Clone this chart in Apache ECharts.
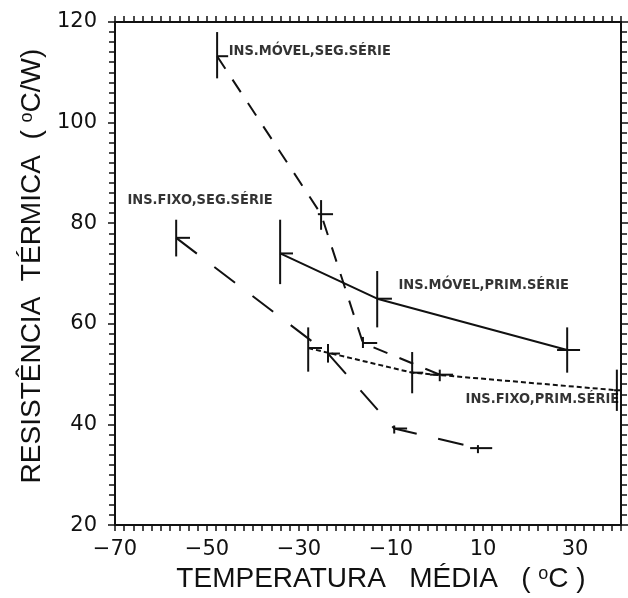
<!DOCTYPE html>
<html><head><meta charset="utf-8">
<script src="https://cdn.jsdelivr.net/npm/echarts@6/dist/echarts.min.js"></script>
<style>html,body{margin:0;padding:0;background:#fff}#c{width:628px;height:598px}</style>
</head><body><div id="c"></div>
<script>
// Tick labels
const xTickLabels = [-70, -50, -30, -10, 10, 30];
const yTickLabels = [20, 40, 60, 80, 100, 120];

// INS.MÓVEL,SEG.SÉRIE (dashed)
const movelSegT   = [-47.8, -25.2, -16.1, 0.6];
const movelSegR   = [113.2, 81.8, 56.2, 49.9];
const movelSegTlo = [-47.8, -25.9, -16.1, -1.5];
const movelSegThi = [-45.4, -22.6, -13.0, 3.5];
const movelSegRlo = [108.8, 78.7, 55.2, 48.6];
const movelSegRhi = [118.0, 84.6, 57.4, 50.9];

// INS.MÓVEL,PRIM.SÉRIE (solid)
const movelPrimT   = [-34.1, -13.0, 28.3];
const movelPrimR   = [74.0, 65.0, 54.8];
const movelPrimTlo = [-34.1, -13.0, 26.1];
const movelPrimThi = [-31.3, -9.8, 31.1];
const movelPrimRlo = [67.9, 59.3, 50.3];
const movelPrimRhi = [80.7, 70.5, 59.3];

// INS.FIXO,PRIM.SÉRIE (short dashes)
const fixoPrimT   = [-28.0, -5.4, 39.1];
const fixoPrimR   = [55.2, 50.3, 46.8];
const fixoPrimTlo = [-28.0, -5.4, 38.5];
const fixoPrimThi = [-25.0, -3.0, 40.0];
const fixoPrimRlo = [50.5, 46.2, 42.7];
const fixoPrimRhi = [59.3, 54.4, 50.9];

// INS.FIXO,SEG.SÉRIE (long dashes)
const fixoSegT   = [-56.7, -23.7, -9.3, 8.9];
const fixoSegR   = [77.1, 54.1, 39.2, 35.3];
const fixoSegTlo = [-56.7, -23.7, -9.3, 7.2];
const fixoSegThi = [-53.7, -21.1, -6.5, 12.0];
const fixoSegRlo = [73.4, 52.3, 38.2, 34.3];
const fixoSegRhi = [80.7, 56.0, 39.8, 35.9];

// Curve labels (anchored at their left edge)
const labelText = ['INS.MÓVEL,SEG.SÉRIE', 'INS.FIXO,SEG.SÉRIE', 'INS.MÓVEL,PRIM.SÉRIE', 'INS.FIXO,PRIM.SÉRIE'];
const labelT = [-45.4, -67.4, -8.5, 6.1];
const labelR = [114.2, 84.6, 67.6, 45.0];

const INK = '#111';

function pts(t, r) { return t.map((v, i) => [v, r[i]]); }
function errs(t, r, tl, th, rl, rh) { return t.map((v, i) => [v, r[i], tl[i], th[i], rl[i], rh[i]]); }

function errRender(params, api) {
  const t = api.value(0), r = api.value(1);
  const tl = api.value(2), th = api.value(3), rl = api.value(4), rh = api.value(5);
  const v1 = api.coord([t, rl]), v2 = api.coord([t, rh]);
  const h1 = api.coord([tl, r]), h2 = api.coord([th, r]);
  return {
    type: 'group',
    children: [
      { type: 'line', shape: { x1: v1[0], y1: v1[1], x2: v2[0], y2: v2[1] }, style: { stroke: INK, lineWidth: 2 } },
      { type: 'line', shape: { x1: h1[0], y1: h1[1], x2: h2[0], y2: h2[1] }, style: { stroke: INK, lineWidth: 2 } }
    ]
  };
}

function lineSeries(name, data, type) {
  return {
    name, type: 'line', data, symbol: 'none', smooth: false,
    lineStyle: { color: INK, width: 2, type },
    z: 3
  };
}
function errSeries(name, data) {
  return {
    name: name + ' err', type: 'custom', renderItem: errRender, data,
    encode: { x: [0, 2, 3], y: [1, 4, 5] }, z: 4
  };
}

const fmtMinus = v => String(v).replace('-', '\u2212');

const axisCommonX = {
  type: 'value', min: -70, max: 40, interval: 10,
  axisLine: { show: true, onZero: false, lineStyle: { color: INK, width: 2 } },
  axisTick: { show: true, inside: false, length: 6, lineStyle: { color: INK, width: 1.5 } },
  minorTick: { show: true, splitNumber: 5, length: 6, lineStyle: { color: INK, width: 1.5 } },
  splitLine: { show: false }, minorSplitLine: { show: false }
};
const axisCommonY = {
  type: 'value', min: 20, max: 120, interval: 20,
  axisLine: { show: true, onZero: false, lineStyle: { color: INK, width: 2 } },
  axisTick: { show: true, inside: false, length: 7, lineStyle: { color: INK, width: 1.5 } },
  minorTick: { show: true, splitNumber: 10, length: 6, lineStyle: { color: INK, width: 1.5 } },
  splitLine: { show: false }, minorSplitLine: { show: false }
};

const chart = echarts.init(document.getElementById('c'));
chart.setOption({
  animation: false,
  backgroundColor: '#fff',
  grid: { left: 115, right: 7, top: 22, bottom: 65, containLabel: false },
  xAxis: [
    Object.assign({}, axisCommonX, {
      position: 'bottom',
      name: 'TEMPERATURA   MÉDIA   ( {s|o}C )',
      nameLocation: 'middle', nameGap: 34,
      nameTextStyle: { fontFamily: 'Liberation Sans, Arial, sans-serif', fontSize: 28, color: INK, padding: [0, 0, 0, 26],
        rich: { s: { fontFamily: 'Liberation Sans, Arial, sans-serif', fontSize: 18, color: INK, verticalAlign: 'top', padding: [0, 0, 10, 0] } } },
      axisLabel: {
        show: true, margin: 14, fontFamily: 'DejaVu Sans, sans-serif', fontSize: 21, color: INK,
        formatter: v => xTickLabels.includes(v) ? fmtMinus(v) : ''
      }
    }),
    Object.assign({}, axisCommonX, { position: 'top', axisLabel: { show: false } })
  ],
  yAxis: [
    Object.assign({}, axisCommonY, {
      position: 'left',
      name: 'RESISTÊNCIA  TÉRMICA  ( {s|o}C/W)',
      nameLocation: 'middle', nameGap: 68, nameRotate: 90,
      nameTextStyle: { fontFamily: 'Liberation Sans, Arial, sans-serif', fontSize: 28, color: INK, padding: [0, 0, 0, 15],
        rich: { s: { fontFamily: 'Liberation Sans, Arial, sans-serif', fontSize: 18, color: INK, padding: [0, 0, 10, 0] } } },
      axisLabel: {
        show: true, margin: 18, fontFamily: 'DejaVu Sans, sans-serif', fontSize: 21, color: INK,
        formatter: v => yTickLabels.includes(v) ? String(v) : ''
      }
    }),
    Object.assign({}, axisCommonY, { position: 'right', axisLabel: { show: false } })
  ],
  series: [
    lineSeries('INS.MÓVEL,SEG.SÉRIE', pts(movelSegT, movelSegR), [15, 13]),
    errSeries('INS.MÓVEL,SEG.SÉRIE', errs(movelSegT, movelSegR, movelSegTlo, movelSegThi, movelSegRlo, movelSegRhi)),
    lineSeries('INS.MÓVEL,PRIM.SÉRIE', pts(movelPrimT, movelPrimR), 'solid'),
    errSeries('INS.MÓVEL,PRIM.SÉRIE', errs(movelPrimT, movelPrimR, movelPrimTlo, movelPrimThi, movelPrimRlo, movelPrimRhi)),
    lineSeries('INS.FIXO,PRIM.SÉRIE', pts(fixoPrimT, fixoPrimR), [5, 3]),
    errSeries('INS.FIXO,PRIM.SÉRIE', errs(fixoPrimT, fixoPrimR, fixoPrimTlo, fixoPrimThi, fixoPrimRlo, fixoPrimRhi)),
    lineSeries('INS.FIXO,SEG.SÉRIE', pts(fixoSegT, fixoSegR), [26, 22]),
    errSeries('INS.FIXO,SEG.SÉRIE', errs(fixoSegT, fixoSegR, fixoSegTlo, fixoSegThi, fixoSegRlo, fixoSegRhi)),
    {
      name: 'labels', type: 'scatter', symbolSize: 1, itemStyle: { color: 'rgba(0,0,0,0)' },
      data: labelText.map((s, i) => [labelT[i], labelR[i], s]),
      label: {
        show: true, position: 'right', distance: 0, color: '#000',
        fontFamily: 'DejaVu Sans Condensed, Liberation Sans Narrow, sans-serif',
        fontWeight: 'bold', fontSize: 14.5,
        formatter: p => p.data[2]
      },
      emphasis: { disabled: true },
      z: 5
    }
  ]
});
</script>
</body></html>
